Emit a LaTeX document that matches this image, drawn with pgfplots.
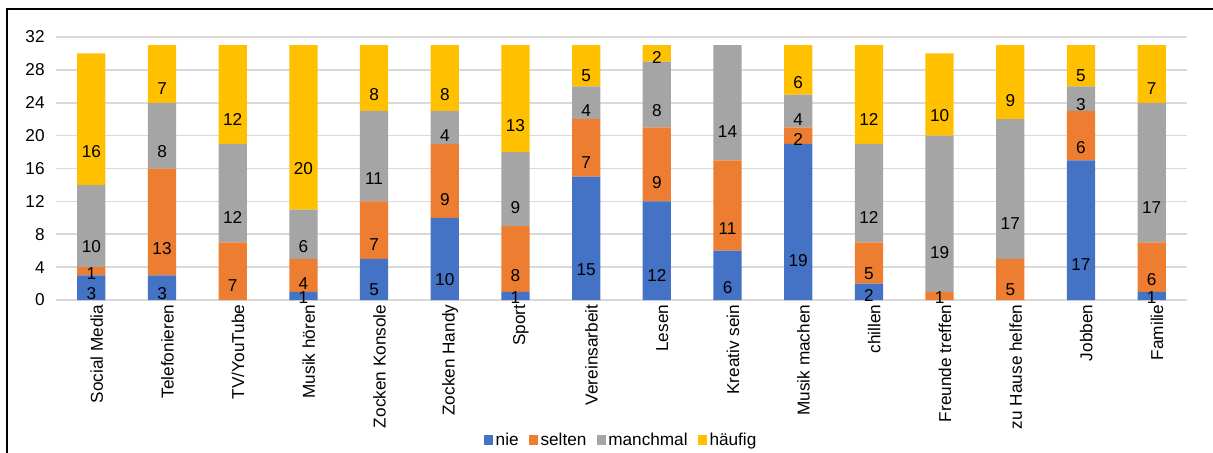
\documentclass[border=0pt]{standalone}
\usepackage{fontspec}
\setmainfont{Liberation Sans}
\usepackage{pgfplots}
\usepackage{pgfplotstable}
\pgfplotsset{compat=1.18}
\definecolor{cnie}{HTML}{4472C4}
\definecolor{csel}{HTML}{ED7D31}
\definecolor{cman}{HTML}{A5A5A5}
\definecolor{chau}{HTML}{FFC000}
\definecolor{cgrid}{HTML}{D9D9D9}
\newcommand{\fs}{\fontsize{12.9}{15}\selectfont}
\pgfplotsset{sqlegend/.style={legend image code/.code={\fill[##1] (0pt,-3.4pt) rectangle (6.8pt,3.4pt);}}}
\pgfplotstableread{
x nie selten manchmal haeufig
0 3 1 10 16
1 3 13 8 7
2 0 7 12 12
3 1 4 6 20
4 5 7 11 8
5 10 9 4 8
6 1 8 9 13
7 15 7 4 5
8 12 9 8 2
9 6 11 14 0
10 19 2 4 6
11 2 5 12 12
12 0 1 19 10
13 0 5 17 9
14 17 6 3 5
15 1 6 17 7
}\datatable
\begin{document}
\begin{tikzpicture}
\useasboundingbox (0,0) rectangle (909.75pt,-339.75pt);
\draw[line width=1.5pt] (5.25pt,-345pt) -- (5.25pt,-6.4pt) -- (915pt,-6.4pt);
\begin{axis}[
  at={(42pt,-225pt)}, anchor=south west,
  scale only axis, width=848.25pt, height=197.25pt,
  ybar stacked, bar width=0.4,
  ymin=0, ymax=32, xmin=-0.5, xmax=15.5,
  ytick={0,4,...,32},
  xtick={0,...,15},
  xticklabels={Social Media,Telefonieren,TV/YouTube,Musik hören,Zocken Konsole,Zocken Handy,Sport,Vereinsarbeit,Lesen,Kreativ sein,Musik machen,chillen,Freunde treffen,zu Hause helfen,Jobben,Familie},
  axis line style={draw=none},
  major tick length=0pt,
  ymajorgrids, grid style={line width=1.2pt, color=cgrid},
  /pgf/number format/assume math mode=true,
  tick label style={font=\fs},
  yticklabel style={xshift=-5pt},
  xticklabel style={rotate=90, anchor=east, yshift=-4pt},
  visualization depends on=rawy\as\rawy,
  nodes near coords={\pgfmathtruncatemacro\v{\rawy}\ifnum\v=0 \else\v\fi},
  every node near coord/.append style={font=\fs, anchor=center, text=black,
    shift={(axis direction cs:0,-\rawy/4)}},
  legend columns=-1,
  legend style={at={(0.5,0)}, anchor=center, yshift=-105pt, draw=none, font=\fs,
    nodes={inner xsep=1.8pt},
    /tikz/every even column/.append style={column sep=6pt}},
]
\addplot[fill=cnie, draw=none, sqlegend] table[x=x,y=nie] {\datatable};
\addplot[fill=csel, draw=none, sqlegend] table[x=x,y=selten] {\datatable};
\addplot[fill=cman, draw=none, sqlegend] table[x=x,y=manchmal] {\datatable};
\addplot[fill=chau, draw=none, sqlegend] table[x=x,y=haeufig] {\datatable};
\legend{nie,selten,manchmal,häufig}
\end{axis}
\end{tikzpicture}
\end{document}
